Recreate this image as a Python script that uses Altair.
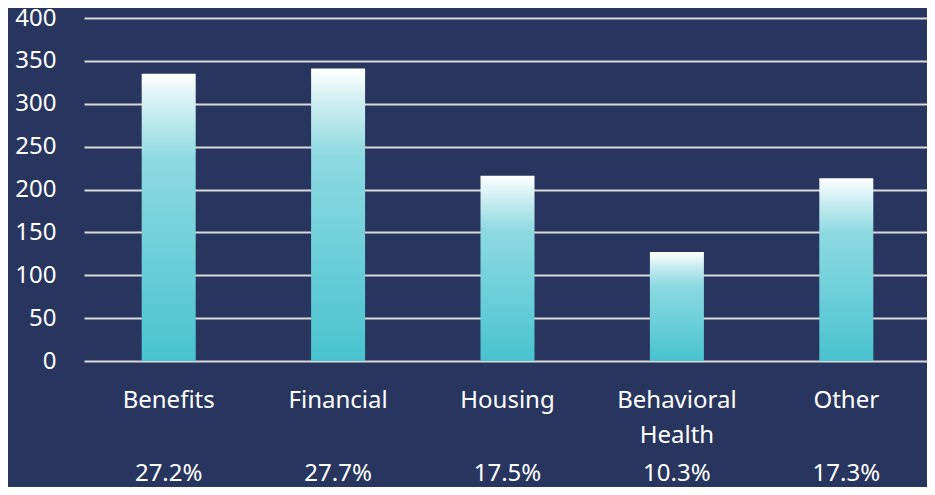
import altair as alt
import pandas as pd

categories = ["Benefits", "Financial", "Housing", "Behavioral Health", "Other"]
values = [335, 341, 216, 127, 213]
percents = ["27.2%", "27.7%", "17.5%", "10.3%", "17.3%"]
y_ticks = [0, 50, 100, 150, 200, 250, 300, 350, 400]

df = pd.DataFrame({"category": categories, "value": values, "pct": percents})

BG = "#28365f"
FONT = "Noto Sans"

gradient = alt.Gradient(
    gradient="linear",
    x1=0, y1=0, x2=0, y2=1,
    stops=[
        alt.GradientStop(color="#ffffff", offset=0),
        alt.GradientStop(color="#cdeef2", offset=0.12),
        alt.GradientStop(color="#8dd9e1", offset=0.3),
        alt.GradientStop(color="#70d0da", offset=0.6),
        alt.GradientStop(color="#48c3cf", offset=1),
    ],
)

x_scale = alt.Scale(paddingInner=0.5, paddingOuter=0.25, range=[0, 847])

x_enc = alt.X(
    "category:N",
    sort=categories,
    title=None,
    scale=x_scale,
    axis=alt.Axis(
        labelAngle=0,
        labelColor="#ffffff",
        labelFont=FONT,
        labelFontSize=24,
        labelPadding=27,
        labelLineHeight=35,
        labelExpr="datum.value == 'Behavioral Health' ? ['Behavioral', 'Health'] : datum.value",
        ticks=False,
        domain=False,
        grid=False,
    ),
)

bars = alt.Chart(df).mark_bar(size=54, color=gradient).encode(
    x=x_enc,
    y=alt.Y(
        "value:Q",
        title=None,
        scale=alt.Scale(domain=[0, 400]),
        axis=alt.Axis(
            values=y_ticks,
            labelColor="#ffffff",
            labelFont=FONT,
            labelFontSize=24,
            labelPadding=28,
            ticks=False,
            domain=False,
            grid=True,
            gridColor="#d9d9d9",
            gridWidth=2,
        ),
    ),
)

pct_text = alt.Chart(df).mark_text(
    color="#ffffff", font=FONT, fontSize=24, baseline="middle", align="center"
).encode(
    x=alt.X("category:N", sort=categories, scale=x_scale),
    y=alt.value(456),
    text="pct:N",
)

chart = (
    alt.layer(bars, pct_text)
    .properties(
        width=843,
        height=343,
        background=BG,
        padding={"left": 76, "top": 10, "right": 0, "bottom": 126},
        autosize=alt.AutoSizeParams(type="none"),
    )
    .configure_view(stroke=None)
)

chart.save("out.html", embed_options={"renderer": "svg", "actions": False})
